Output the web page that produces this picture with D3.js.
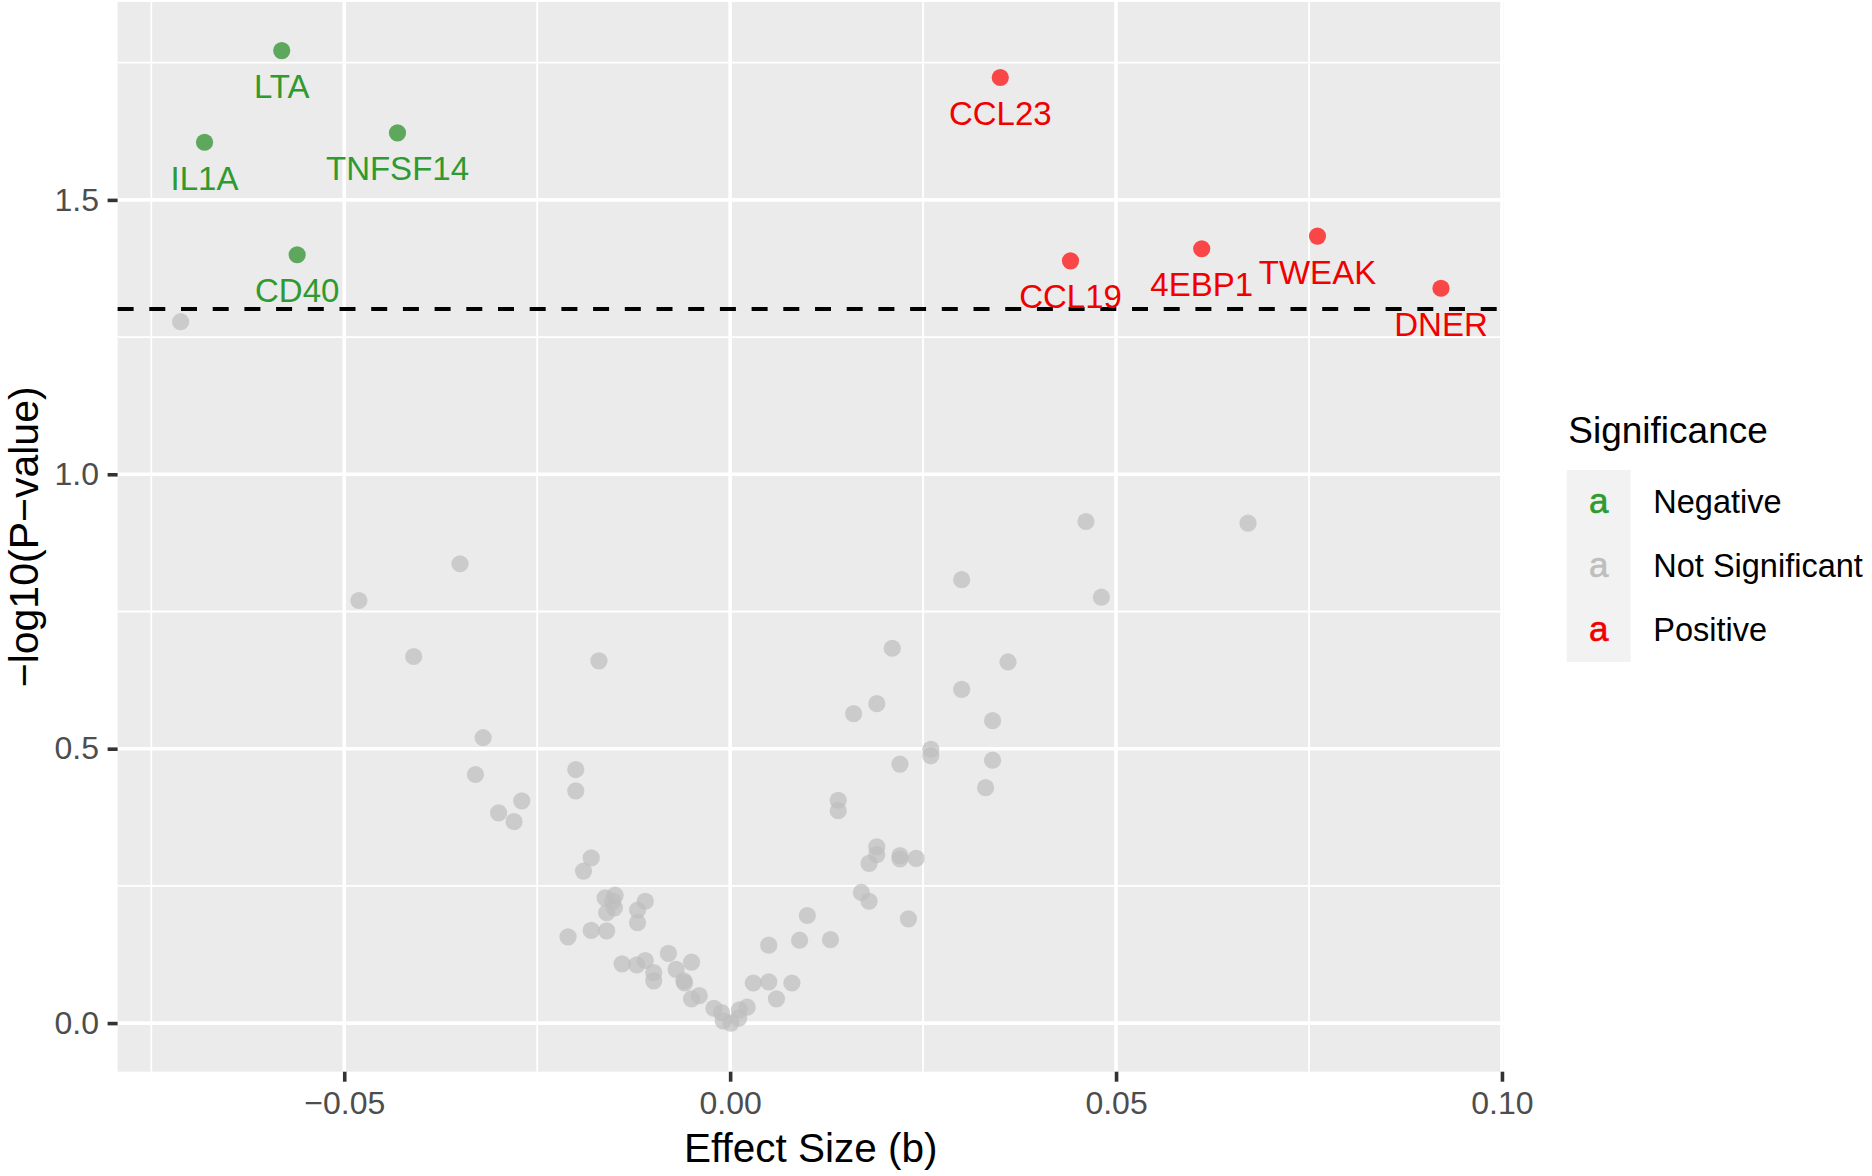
<!DOCTYPE html>
<html>
<head>
<meta charset="utf-8">
<script src="https://cdn.jsdelivr.net/npm/d3@7"></script>
<style>
  html, body { margin: 0; padding: 0; background: #ffffff; }
  svg { display: block; }
  text { font-family: "Liberation Sans", Arial, Helvetica, sans-serif; }
</style>
</head>
<body>
<svg id="chart" width="1872" height="1176"></svg>
<script>
// ---------- DATA ----------
// Significant (labelled) proteins
const sigNames        = ["LTA", "IL1A", "TNFSF14", "CD40", "CCL23", "CCL19", "4EBP1", "TWEAK", "DNER"];
const sigEffect       = [-0.0581, -0.0681, -0.0431, -0.0561, 0.0350, 0.0441, 0.0611, 0.0761, 0.0921];
const sigNegLogP      = [1.772, 1.605, 1.622, 1.400, 1.723, 1.389, 1.411, 1.434, 1.339];
const sigSignificance = ["Negative", "Negative", "Negative", "Negative", "Positive", "Positive", "Positive", "Positive", "Positive"];

// Not significant proteins
const nsEffect = [
  -0.0712, -0.0481, -0.0350, -0.0410, -0.0170, -0.0320, -0.0330, -0.0270, -0.0300, -0.0280,
  -0.0200, -0.0200, -0.0180, -0.0190, -0.0162, -0.0149, -0.0150, -0.0160, -0.0152, -0.0110,
  -0.0120, -0.0120, -0.0210, -0.0180, -0.0160, -0.0140, -0.0121, -0.0110, -0.0099, -0.0099,
  -0.0080, -0.0070, -0.0050, -0.0060, -0.0059, -0.0050, -0.0040, -0.0021, -0.0011, -0.0009,
   0.0001,  0.0011,  0.0012,  0.0022,  0.0030,  0.0050,  0.0050,  0.0060,  0.0080,  0.0090,
   0.0100,  0.0130,  0.0140,  0.0140,  0.0300,  0.0481,  0.0210,  0.0360,  0.0300,  0.0190,
   0.0160,  0.0340,  0.0260,  0.0260,  0.0220,  0.0340,  0.0331,  0.0190,  0.0190,  0.0180,
   0.0220,  0.0220,  0.0241,  0.0170,  0.0180,  0.0231,  0.0461,  0.0671
];
const nsNegLogP = [
  1.278, 0.770, 0.837, 0.668, 0.660, 0.520, 0.453, 0.405, 0.383, 0.367,
  0.462, 0.423, 0.301, 0.277, 0.228, 0.233, 0.210, 0.201, 0.222, 0.222,
  0.206, 0.183, 0.157, 0.169, 0.168, 0.108, 0.106, 0.114, 0.092, 0.077,
  0.127, 0.098, 0.111, 0.077, 0.073, 0.044, 0.050, 0.027, 0.019, 0.004,
  0.000, 0.009, 0.024, 0.029, 0.073, 0.075, 0.142, 0.044, 0.073, 0.151,
  0.196, 0.152, 0.406, 0.387, 0.808, 0.776, 0.683, 0.658, 0.608, 0.582,
  0.564, 0.551, 0.499, 0.487, 0.472, 0.479, 0.429, 0.321, 0.307, 0.291,
  0.305, 0.299, 0.300, 0.238, 0.222, 0.190, 0.914, 0.911
];

const categories = ["Negative", "Not Significant", "Positive"];
const xTicks = [-0.05, 0.00, 0.05, 0.10];
const yTicks = [0.0, 0.5, 1.0, 1.5];
const xMinor = [-0.075, -0.025, 0.025, 0.075];
const yMinor = [0.25, 0.75, 1.25, 1.75];
const pThreshold = 0.05;

const xTitle = "Effect Size (b)";
const yTitle = "\u2212log10(P\u2212value)";
const legendTitle = "Significance";

// ---------- STYLE ----------
const pointFill = { "Negative": "#228B22", "Not Significant": "#BEBEBE", "Positive": "#FF0000" };
const textFill  = { "Negative": "#2F9A2F", "Not Significant": "#BEBEBE", "Positive": "#F20000" };

// ---------- LAYOUT ----------
const panel = { left: 117.6, right: 1504, top: 2, bottom: 1071.7 };

const svg = d3.select("#chart");
svg.append("rect").attr("width", 1872).attr("height", 1176).attr("fill", "#ffffff");

const allX = sigEffect.concat(nsEffect);
const allY = sigNegLogP.concat(nsNegLogP);
function expand(ext) { const d = (ext[1] - ext[0]) * 0.05; return [ext[0] - d, ext[1] + d]; }

const x = d3.scaleLinear().domain(expand(d3.extent(allX))).range([panel.left, panel.right]);
const y = d3.scaleLinear().domain(expand(d3.extent(allY))).range([panel.bottom, panel.top]);

// panel background
svg.append("rect")
  .attr("x", panel.left).attr("y", panel.top)
  .attr("width", panel.right - panel.left).attr("height", panel.bottom - panel.top)
  .attr("fill", "#EBEBEB");

const grid = svg.append("g");
// minor grid
grid.selectAll(".vmin").data(xMinor).enter().append("line")
  .attr("x1", d => x(d)).attr("x2", d => x(d)).attr("y1", panel.top).attr("y2", panel.bottom)
  .attr("stroke", "#ffffff").attr("stroke-width", 1.8);
grid.selectAll(".hmin").data(yMinor).enter().append("line")
  .attr("y1", d => y(d)).attr("y2", d => y(d)).attr("x1", panel.left).attr("x2", panel.right)
  .attr("stroke", "#ffffff").attr("stroke-width", 1.8);
// major grid
grid.selectAll(".vmaj").data(xTicks).enter().append("line")
  .attr("x1", d => x(d)).attr("x2", d => x(d)).attr("y1", panel.top).attr("y2", panel.bottom)
  .attr("stroke", "#ffffff").attr("stroke-width", 3.6);
grid.selectAll(".hmaj").data(yTicks).enter().append("line")
  .attr("y1", d => y(d)).attr("y2", d => y(d)).attr("x1", panel.left).attr("x2", panel.right)
  .attr("stroke", "#ffffff").attr("stroke-width", 3.6);

// threshold dashed line
svg.append("line")
  .attr("x1", panel.left).attr("x2", panel.right)
  .attr("y1", y(-Math.log10(pThreshold))).attr("y2", y(-Math.log10(pThreshold)))
  .attr("stroke", "#000000").attr("stroke-width", 4)
  .attr("stroke-dasharray", "16,15.7");

// points
const nsData = nsEffect.map((v, i) => ({ x: v, y: nsNegLogP[i], sig: "Not Significant" }));
const sigData = sigNames.map((n, i) => ({ name: n, x: sigEffect[i], y: sigNegLogP[i], sig: sigSignificance[i] }));

svg.append("g").selectAll("circle").data(nsData.concat(sigData)).enter().append("circle")
  .attr("cx", d => x(d.x)).attr("cy", d => y(d.y)).attr("r", 8.6)
  .attr("fill", d => pointFill[d.sig]).attr("fill-opacity", 0.7);

// labels (placed below each point)
svg.append("g").selectAll("text").data(sigData).enter().append("text")
  .attr("x", d => x(d.x)).attr("y", d => y(d.y) + 47.5)
  .attr("text-anchor", "middle")
  .attr("font-size", 33)
  .attr("fill", d => textFill[d.sig])
  .text(d => d.name);

// axes
const xAxis = d3.axisBottom(x).tickValues(xTicks).tickFormat(d3.format(".2f")).tickSize(10).tickPadding(9.6);
const gx = svg.append("g").attr("transform", `translate(0,${panel.bottom})`).call(xAxis);
gx.select(".domain").remove();
gx.selectAll(".tick line").attr("stroke", "#333333").attr("stroke-width", 3.6);
gx.selectAll(".tick text").attr("font-size", 32).attr("fill", "#4D4D4D")
  .attr("font-family", "'Liberation Sans', Arial, sans-serif");

const yAxis = d3.axisLeft(y).tickValues(yTicks).tickFormat(d3.format(".1f")).tickSize(10).tickPadding(8.6);
const gy = svg.append("g").attr("transform", `translate(${panel.left},0)`).call(yAxis);
gy.select(".domain").remove();
gy.selectAll(".tick line").attr("stroke", "#333333").attr("stroke-width", 3.6);
gy.selectAll(".tick text").attr("font-size", 32).attr("fill", "#4D4D4D")
  .attr("font-family", "'Liberation Sans', Arial, sans-serif");

// axis titles
svg.append("text")
  .attr("x", (panel.left + panel.right) / 2).attr("y", 1161.7)
  .attr("text-anchor", "middle").attr("font-size", 40.5).attr("fill", "#000000")
  .text(xTitle);

svg.append("text")
  .attr("transform", `translate(38,${(panel.top + panel.bottom) / 2}) rotate(-90)`)
  .attr("text-anchor", "middle").attr("font-size", 41).attr("fill", "#000000")
  .text(yTitle);

// legend
const lg = svg.append("g");
lg.append("text").attr("x", 1568.3).attr("y", 442.7).attr("font-size", 37).attr("fill", "#000000").text(legendTitle);
const keyX = 1566.7, keyY0 = 470, keySize = 64;
const keys = lg.selectAll(".key").data(categories).enter().append("g");
keys.append("rect")
  .attr("x", keyX).attr("y", (d, i) => keyY0 + i * keySize)
  .attr("width", keySize).attr("height", keySize).attr("fill", "#F2F2F2");
keys.append("text")
  .attr("x", keyX + keySize / 2).attr("y", (d, i) => keyY0 + i * keySize + keySize / 2 + 11)
  .attr("text-anchor", "middle").attr("font-size", 35)
  .attr("fill", d => textFill[d]).attr("stroke", d => textFill[d]).attr("stroke-width", 0.6)
  .text("a");
keys.append("text")
  .attr("x", 1653.3).attr("y", (d, i) => keyY0 + i * keySize + keySize / 2 + 11.4)
  .attr("font-size", 32.5).attr("fill", "#000000")
  .text(d => d);
</script>
</body>
</html>
